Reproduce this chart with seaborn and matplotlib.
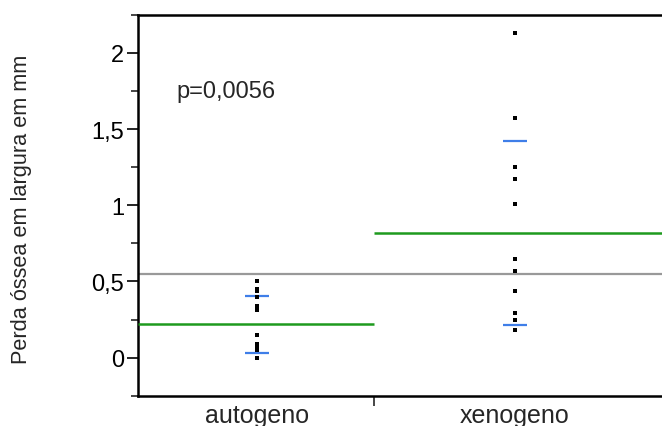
import numpy as np
import pandas as pd
import matplotlib
matplotlib.use("Agg")
import matplotlib.pyplot as plt
import seaborn as sns
from matplotlib.ticker import MultipleLocator, FixedLocator, FuncFormatter

sns.set_style("white")
plt.rcParams['font.family'] = ['Liberation Sans', 'DejaVu Sans']

# dados
grupos = ["autogeno", "xenogeno"]
autogeno = [0.50, 0.45, 0.44, 0.40, 0.34, 0.33, 0.32, 0.31, 0.15, 0.09, 0.08, 0.065, 0.05, 0.0]
xenogeno = [2.13, 1.57, 1.25, 1.17, 1.01, 0.65, 0.57, 0.44, 0.29, 0.25, 0.18]
media_grupo = [0.22, 0.82]
dp_grupo = [0.187, 0.603]
media_geral = 0.55
p_texto = "p=0,0056"

df = pd.DataFrame({
    "grupo": ["autogeno"] * len(autogeno) + ["xenogeno"] * len(xenogeno),
    "perda": autogeno + xenogeno,
})

fig = plt.figure(figsize=(6.62, 4.27), dpi=100)
ax = fig.add_axes([138 / 662, 1 - 396.7 / 427, 1 - 138 / 662, (396.7 - 15.7) / 427])

sns.stripplot(data=df, x="grupo", y="perda", order=grupos, jitter=False,
              marker="s", size=3.0, color="black", linewidth=0, ax=ax, zorder=4)

xmin, xlim_div, xmax = -0.46, 0.453, 1.57
limites = [(xmin, xlim_div), (xlim_div, xmax)]

# média geral
ax.axhline(media_geral, color="#999999", lw=1.6, zorder=2)
# médias por grupo e desvio padrão
for i in range(len(grupos)):
    ax.hlines(media_grupo[i], limites[i][0], limites[i][1], color="#1e9a1e", lw=1.8, zorder=3)
    for s in (-1, 1):
        ax.hlines(media_grupo[i] + s * dp_grupo[i], i - 0.047, i + 0.047,
                  color="#3f7ee8", lw=1.6, zorder=3)

ax.set_xlim(xmin, xmax)
ax.set_ylim(-0.25, 2.25)

# eixo y
ax.yaxis.set_major_locator(MultipleLocator(0.5))
ax.yaxis.set_minor_locator(MultipleLocator(0.25))
ax.yaxis.set_major_formatter(FuncFormatter(lambda v, pos: f"{v:g}".replace(".", ",")))
ax.tick_params(axis="y", which="major", direction="out", length=8, width=1.2,
               labelsize=17, pad=2, left=True, colors="black")
ax.tick_params(axis="y", which="minor", direction="out", length=5, width=1.2, left=True)

# eixo x: marca no limite entre grupos, rótulos nos centros
ax.xaxis.set_major_locator(FixedLocator([xlim_div]))
ax.xaxis.set_major_formatter(FuncFormatter(lambda v, pos: ""))
ax.xaxis.set_minor_locator(FixedLocator([0, 1]))
ax.set_xticklabels(grupos, minor=True)
ax.tick_params(axis="x", which="major", direction="out", length=7, width=1.2, bottom=True)
ax.tick_params(axis="x", which="minor", length=0, labelsize=18, pad=5)

ax.set_xlabel("")
ax.set_ylabel("Perda óssea em largura em mm", fontsize=15.7)
ax.yaxis.set_label_coords(-0.202, 0.492)

for lado in ["left", "top", "bottom"]:
    ax.spines[lado].set_visible(True)
    ax.spines[lado].set_color("black")
    ax.spines[lado].set_linewidth(1.8)
ax.spines["right"].set_visible(False)

ax.text(0.074, 0.80, p_texto, transform=ax.transAxes, fontsize=17,
        ha="left", va="center")

fig.savefig("out.png", dpi=100)
